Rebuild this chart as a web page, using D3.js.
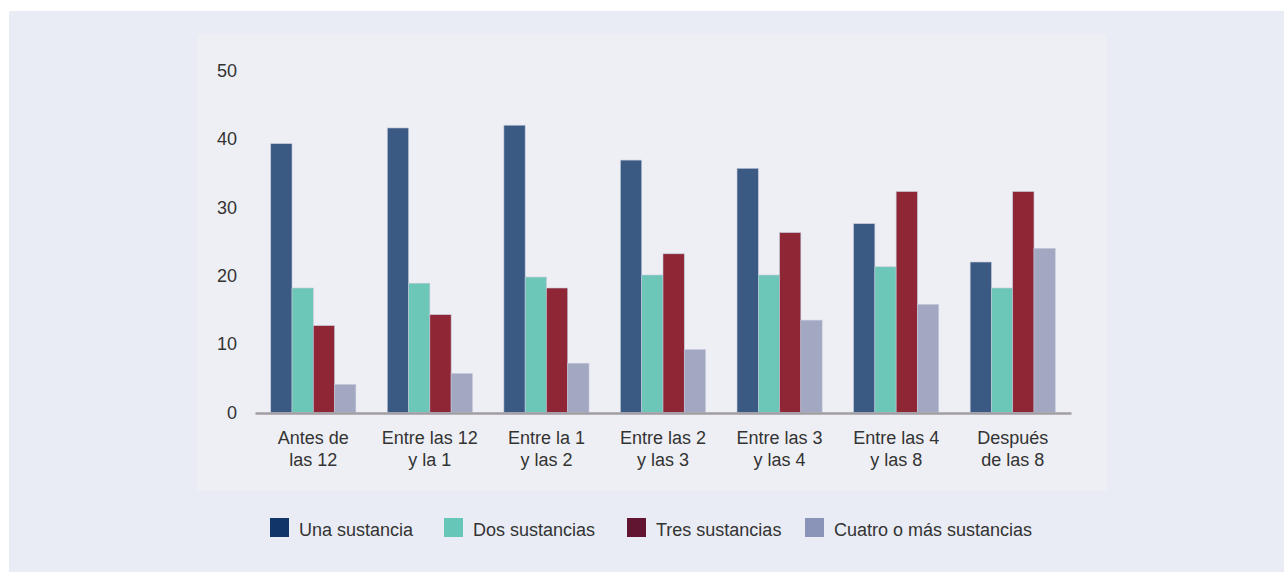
<!DOCTYPE html>
<html>
<head>
<meta charset="utf-8">
<script src="https://cdn.jsdelivr.net/npm/d3@7"></script>
<style>
  html, body { margin: 0; padding: 0; background: #ffffff; }
  svg { display: block; }
  text { font-family: "Liberation Sans", Arial, Helvetica, sans-serif; }
</style>
</head>
<body>
<svg id="chart" width="1284" height="572"></svg>
<script>
const categories = [
  ["Antes de", "las 12"],
  ["Entre las 12", "y la 1"],
  ["Entre la 1", "y las 2"],
  ["Entre las 2", "y las 3"],
  ["Entre las 3", "y las 4"],
  ["Entre las 4", "y las 8"],
  ["Después", "de las 8"]
];
const seriesNames = ["Una sustancia", "Dos sustancias", "Tres sustancias", "Cuatro o más sustancias"];
const unaSustancia    = [39.3, 41.6, 42.0, 36.9, 35.7, 27.6, 22.0];
const dosSustancias   = [18.2, 18.9, 19.8, 20.1, 20.1, 21.3, 18.2];
const tresSustancias  = [12.7, 14.3, 18.2, 23.2, 26.3, 32.3, 32.3];
const cuatroOMas      = [4.1, 5.7, 7.2, 9.2, 13.5, 15.8, 24.0];
const yTicks = [0, 10, 20, 30, 40, 50];

const seriesValues = [unaSustancia, dosSustancias, tresSustancias, cuatroOMas];
const barColors = ["#3b5a83", "#6cc7b9", "#8e2635", "#a2a7c2"];
const legendColors = ["#0f3569", "#66c7b9", "#611530", "#8a94b8"];

const svg = d3.select("#chart");

// backgrounds
svg.append("rect").attr("x", 9).attr("y", 11).attr("width", 1275).attr("height", 561).attr("fill", "#e9ecf4");
svg.append("rect").attr("x", 197).attr("y", 34).attr("width", 910).attr("height", 457).attr("fill", "#eeeff4");

const catKeys = categories.map((c, i) => i);
const x0 = d3.scaleBand().domain(catKeys).range([255, 1071]).paddingInner(0.27).paddingOuter(0.135);
const x1 = d3.scaleBand().domain(d3.range(seriesNames.length)).range([0, x0.bandwidth()]);
const y = d3.scaleLinear().domain([0, 50]).range([412.5, 70.5]);

// bars
const groups = svg.append("g").selectAll("g").data(catKeys).join("g")
  .attr("transform", d => `translate(${x0(d)},0)`);
groups.selectAll("rect")
  .data(ci => seriesValues.map((vals, si) => ({ si, v: vals[ci] })))
  .join("rect")
  .attr("x", d => x1(d.si))
  .attr("y", d => y(d.v))
  .attr("width", x1.bandwidth())
  .attr("height", d => y(0) - y(d.v))
  .attr("fill", d => barColors[d.si])
  .attr("stroke", "#c3c8da")
  .attr("stroke-width", 0.6);

// y axis labels
const yAxis = d3.axisLeft(y).tickValues(yTicks).tickSize(0).tickPadding(0);
const yg = svg.append("g").attr("transform", "translate(237,0)").call(yAxis);
yg.select(".domain").remove();
yg.selectAll("text").attr("font-size", 18).attr("fill", "#333333")
  .style("font-family", '"Liberation Sans", Arial, sans-serif');

// x axis
const xAxis = d3.axisBottom(x0).tickSize(0).tickFormat("");
const xg = svg.append("g").attr("transform", "translate(0,413)").call(xAxis);
xg.select(".domain").attr("stroke", "#a09ea3").attr("stroke-width", 2.5);
xg.selectAll(".tick").each(function(d) {
  const t = d3.select(this).append("text")
    .attr("text-anchor", "middle")
    .attr("font-size", 18)
    .attr("fill", "#333333");
  categories[d].forEach((line, li) => {
    t.append("tspan").attr("x", 0).attr("y", 31 + li * 21.5).text(line);
  });
});

// legend
const legendX = [270, 444, 627, 805];
const legend = svg.append("g");
seriesNames.forEach((name, i) => {
  legend.append("rect").attr("x", legendX[i]).attr("y", 518).attr("width", 19).attr("height", 19)
    .attr("fill", legendColors[i]);
  legend.append("text").attr("x", legendX[i] + 29).attr("y", 536)
    .attr("font-size", 18).attr("fill", "#333333").text(name);
});
</script>
</body>
</html>
